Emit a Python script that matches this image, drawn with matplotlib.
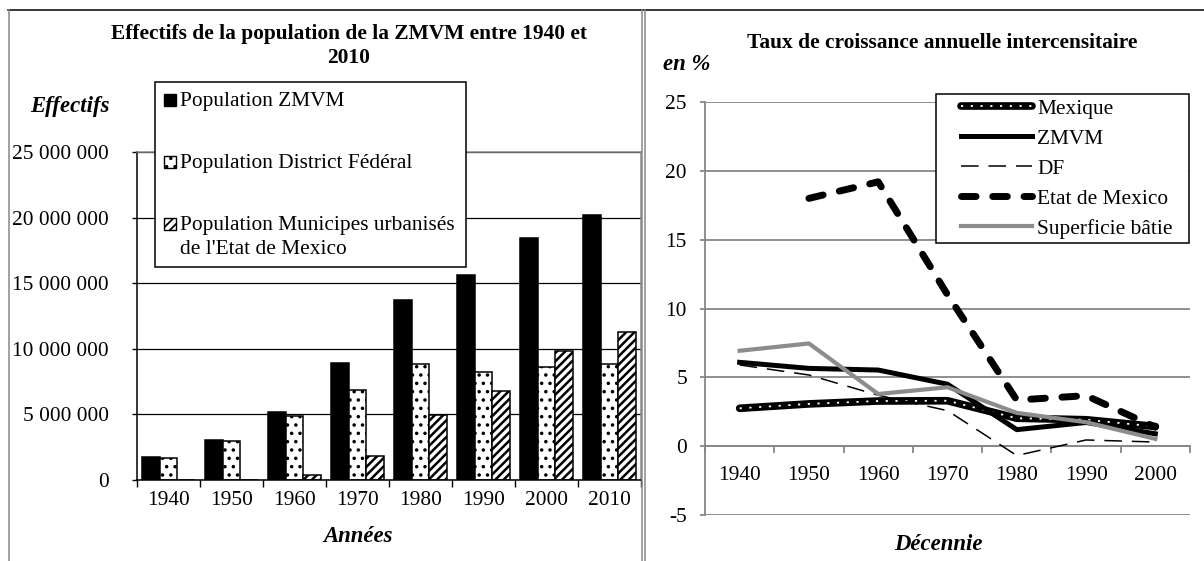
import matplotlib
matplotlib.use("Agg")
import matplotlib.pyplot as plt
import numpy as np
from matplotlib.patches import Rectangle
from matplotlib.lines import Line2D
from matplotlib.legend_handler import HandlerBase, HandlerLine2D
from matplotlib.ticker import FuncFormatter, FixedLocator

plt.rcParams['font.family'] = ['Liberation Serif', 'DejaVu Serif']
plt.rcParams['hatch.linewidth'] = 1.3
plt.rcParams['axes.unicode_minus'] = False

# ---------------- data ----------------
years_pop = ['1940', '1950', '1960', '1970', '1980', '1990', '2000', '2010']
pop_zmvm = [1.72e6, 3.03e6, 5.18e6, 8.89e6, 13.69e6, 15.64e6, 18.43e6, 20.18e6]
pop_df = [1.66e6, 2.95e6, 4.87e6, 6.87e6, 8.84e6, 8.26e6, 8.60e6, 8.84e6]
pop_edomex = [0.0, 0.03e6, 0.38e6, 1.84e6, 4.95e6, 6.82e6, 9.80e6, 11.25e6]
pop_labels = ['Population ZMVM', 'Population District Fédéral',
              "Population Municipes urbanisés\nde l'Etat de Mexico"]

decades = ['1940', '1950', '1960', '1970', '1980', '1990', '2000']
taux_mexique = [2.75, 3.07, 3.28, 3.30, 2.03, 1.92, 1.43]
taux_zmvm = [6.09, 5.65, 5.53, 4.50, 1.20, 1.72, 0.90]
taux_df = [5.90, 5.17, 3.70, 2.58, -0.68, 0.45, 0.30]
taux_edomex = [np.nan, 18.0, 19.2, 11.0, 3.35, 3.67, 1.38]
taux_superficie = [6.93, 7.46, 3.79, 4.28, 2.42, 1.74, 0.53]
taux_labels = ['Mexique', 'ZMVM', 'DF', 'Etat de Mexico', 'Superficie bâtie']

# ---------------- layout helpers ----------------
W, H = 1204, 561
FS = 15.4
GRAY = '#878787'

fig = plt.figure(figsize=(W / 100, H / 100), dpi=100)


def fx(px):
    return px / W


def fy(py):
    return 1 - py / H


# panel frames
for (xs, ys, c) in [((8, W), (9.5, 9.5), 'black'),
                    ((9, 9), (9.5, H), GRAY),
                    ((642, 642), (9.5, H), GRAY),
                    ((645, 645), (9.5, H), GRAY)]:
    fig.add_artist(Line2D([fx(xs[0]), fx(xs[1])], [fy(ys[0]), fy(ys[1])],
                          transform=fig.transFigure, color=c, lw=1.1))

# ================= left chart: bars =================
L0, L1, LT, LB = 137, 641, 152, 480
axL = fig.add_axes([fx(L0), fy(LB), (L1 - L0) / W, (LB - LT) / H])
x = np.arange(len(years_pop))
bw = 0.277
axL.bar(x - bw, pop_zmvm, bw, color='black', edgecolor='black', lw=1.1, zorder=2)
axL.bar(x, pop_df, bw, facecolor='white', edgecolor='black', hatch='..', lw=1.1, zorder=2)
b3 = axL.bar(x + bw, pop_edomex, bw, facecolor='white', edgecolor='black', hatch='////',
             lw=1.1, zorder=2)
for p in b3.patches:
    if hasattr(p, 'set_hatch_linewidth'):
        p.set_hatch_linewidth(1.8)

axL.set_xlim(-0.5, len(years_pop) - 0.5)
axL.set_ylim(0, 25e6)
axL.set_yticks(np.arange(0, 25e6 + 1, 5e6))
axL.yaxis.set_major_formatter(FuncFormatter(lambda v, p: f"{int(v):,}".replace(",", " ")))
axL.set_xticks(x)
axL.set_xticklabels(years_pop)
axL.xaxis.set_minor_locator(FixedLocator(np.arange(-0.5, len(years_pop), 1.0)))
axL.tick_params(axis='x', which='major', length=0, pad=7.8, labelsize=FS)
axL.tick_params(axis='x', which='minor', length=5, width=1, direction='out', color='black')
axL.tick_params(axis='y', which='major', length=3.6, width=1, direction='out',
                pad=16.5, labelsize=FS, color='black')
axL.set_axisbelow(True)
axL.grid(axis='y', color='black', lw=0.9)
axL.spines['left'].set_color('black')
axL.spines['bottom'].set_color('black')
axL.spines['top'].set_color(GRAY)
axL.spines['right'].set_color(GRAY)
for s in axL.spines.values():
    s.set_linewidth(1.1)


def axcoords(px, py, a0, a1, at, ab):
    return (px - a0) / (a1 - a0), (ab - py) / (ab - at)


axL.set_title("Effectifs de la population de la ZMVM entre 1940 et\n2010",
              fontsize=FS, fontweight='bold', pad=0,
              x=axcoords(349, 46, L0, L1, LT, LB)[0], y=axcoords(349, 46, L0, L1, LT, LB)[1],
              va='center', ha='center', linespacing=1.28)
axL.set_ylabel('Effectifs', fontsize=FS + 1, fontweight='bold', style='italic',
               rotation=0, ha='center', va='center')
axL.yaxis.set_label_coords(*axcoords(70, 107, L0, L1, LT, LB))
axL.set_xlabel('Années', fontsize=FS + 1, fontweight='bold', style='italic', va='center')
axL.xaxis.set_label_coords(*axcoords(358, 537, L0, L1, LT, LB))


class SquareHandler(HandlerBase):
    def __init__(self, size_pt, yshift_pt=0.0):
        super().__init__()
        self.s = size_pt
        self.dy = yshift_pt

    def create_artists(self, legend, orig_handle, xdescent, ydescent,
                       width, height, fontsize, trans):
        p = Rectangle((-xdescent, -ydescent + self.dy), self.s, self.s)
        self.update_prop(p, orig_handle, legend)
        p.set_transform(trans)
        return [p]


h1 = Rectangle((0, 0), 1, 1, facecolor='black', edgecolor='black', lw=1.0)
h2 = Rectangle((0, 0), 1, 1, facecolor='white', edgecolor='black', hatch='..', lw=1.0)
h3 = Rectangle((0, 0), 1, 1, facecolor='white', edgecolor='black', hatch='////', lw=1.0)
legL = axL.legend([h1, h2, h3], pop_labels,
                  handler_map={h1: SquareHandler(8.6), h2: SquareHandler(8.6),
                               h3: SquareHandler(8.6, 10.5)},
                  loc='upper left', mode='expand',
                  bbox_to_anchor=(fx(155), fy(262), (466 - 155) / W, (262 - 82) / H),
                  bbox_transform=fig.transFigure, borderaxespad=0,
                  fontsize=FS, frameon=True, fancybox=False, edgecolor='black',
                  framealpha=1, borderpad=0.4, labelspacing=2.0,
                  handlelength=0.57, handleheight=0.7, handletextpad=0.2)
legL.get_frame().set_linewidth(1.1)
for t in legL.get_texts():
    t.set_linespacing(1.32)

# ================= right chart: lines =================
R0, R1, RT, RB = 705, 1190, 102, 515
axR = fig.add_axes([fx(R0), fy(RB), (R1 - R0) / W, (RB - RT) / H])
xr = np.arange(len(decades))

l_mex_b, = axR.plot(xr, taux_mexique, color='black', lw=5.5, solid_capstyle='round',
                    solid_joinstyle='round', zorder=3)
l_mex_w, = axR.plot(xr, taux_mexique, color='white', lw=1.3, linestyle=(0, (1.2, 4.2)),
                    zorder=3.1)
l_zmvm, = axR.plot(xr, taux_zmvm, color='black', lw=3.6, solid_joinstyle='round', zorder=3.2)
l_df, = axR.plot(xr, taux_df, color='black', lw=1.1, linestyle=(0, (11.5, 6.5)), zorder=3.3)
l_edo, = axR.plot(xr, taux_edomex, color='black', lw=5.0, linestyle=(0, (2.1, 2.4)),
                  dash_capstyle='round', dash_joinstyle='round', zorder=3.4)
l_sup, = axR.plot(xr, taux_superficie, color='#8c8c8c', lw=3.0, solid_joinstyle='round',
                  zorder=3.5)

axR.set_xlim(-0.5, len(decades) - 0.5)
axR.set_ylim(-5, 25)
axR.set_yticks(np.arange(-5, 26, 5))
axR.set_xticks(xr)
axR.set_xticklabels(decades)
axR.xaxis.set_minor_locator(FixedLocator(np.arange(-0.5, len(decades), 1.0)))
axR.spines['bottom'].set_position(('data', 0))
axR.spines['bottom'].set_color(GRAY)
axR.spines['left'].set_color(GRAY)
axR.spines['bottom'].set_linewidth(1.3)
axR.spines['left'].set_linewidth(1.3)
axR.spines['top'].set_visible(False)
axR.spines['right'].set_visible(False)
axR.tick_params(axis='x', which='major', length=0, pad=14.0, labelsize=FS)
axR.tick_params(axis='x', which='minor', length=5, width=1.3, direction='out', color=GRAY)
axR.tick_params(axis='y', which='major', length=3.6, width=1.3, direction='out',
                pad=9.4, labelsize=FS, color=GRAY)
axR.set_axisbelow(True)
axR.grid(axis='y', color=GRAY, lw=1.3)

axR.set_title("Taux de croissance annuelle intercensitaire", fontsize=FS, fontweight='bold',
              pad=0, x=axcoords(942, 43, R0, R1, RT, RB)[0],
              y=axcoords(942, 43, R0, R1, RT, RB)[1], va='center', ha='center')
axR.set_ylabel('en %', fontsize=FS + 1, fontweight='bold', style='italic',
               rotation=0, ha='center', va='center')
axR.yaxis.set_label_coords(*axcoords(687, 65, R0, R1, RT, RB))
axR.set_xlabel('Décennie', fontsize=FS + 1, fontweight='bold', style='italic', va='center')
axR.xaxis.set_label_coords(*axcoords(938, 545, R0, R1, RT, RB))


class OffsetLineHandler(HandlerLine2D):
    def __init__(self, offset_pt, **kw):
        super().__init__(**kw)
        self.off = offset_pt

    def get_xdata(self, legend, xdescent, ydescent, width, height, fontsize):
        xd = [-xdescent + self.off, -xdescent + width]
        return xd, [-xdescent + 0.5 * width]


legR = axR.legend([(l_mex_b, l_mex_w), l_zmvm, l_df, l_edo, l_sup], taux_labels,
                  handler_map={Line2D: OffsetLineHandler(14.4)},
                  loc='upper left', mode='expand',
                  bbox_to_anchor=(fx(936), fy(244), (1189 - 936) / W, (244 - 94) / H),
                  bbox_transform=fig.transFigure, borderaxespad=0,
                  fontsize=FS, frameon=True, fancybox=False, edgecolor='black',
                  framealpha=1, borderpad=0.22, labelspacing=0.47,
                  handlelength=4.25, handletextpad=0.25)
legR.get_frame().set_linewidth(1.1)
legR.set_zorder(5)

fig.savefig('out.png', dpi=100)
